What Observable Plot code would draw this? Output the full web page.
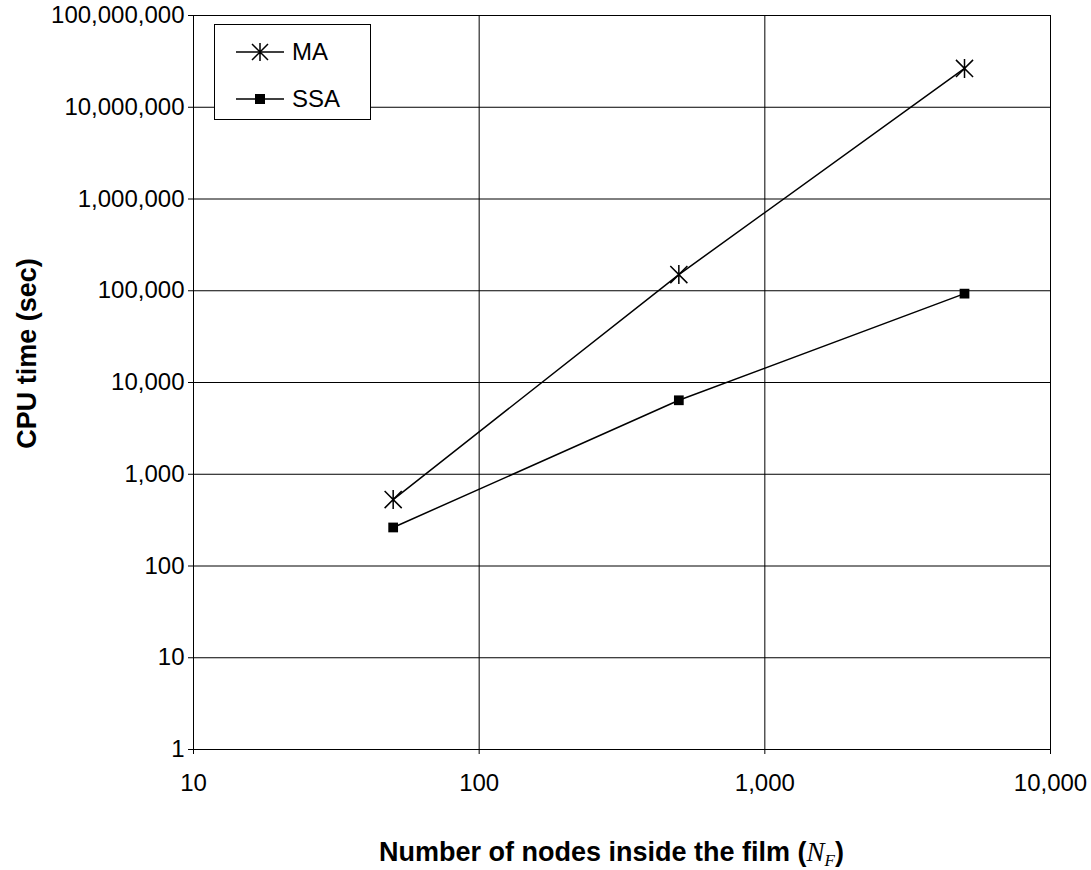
<!DOCTYPE html>
<html>
<head>
<meta charset="utf-8">
<script src="https://cdn.jsdelivr.net/npm/d3@7"></script>
<script src="https://cdn.jsdelivr.net/npm/@observablehq/plot@0.6"></script>
<style>
  body { margin: 0; background: white; font-family: "Liberation Sans", Arial, sans-serif; }
  #wrap { position: relative; width: 1091px; height: 870px; }
  #chart svg { display: block; }
  #legend { position: absolute; left: 214px; top: 24px; width: 157px; height: 96px;
    border: 1px solid black; background: white; box-sizing: border-box; }
  .entry { position: absolute; left: 0; height: 30px; display: flex; align-items: center; font-size: 24px; }
  .entry svg { display: block; margin-left: 21px; margin-right: 8px; }
  #xlabel { position: absolute; left: 183px; width: 857px; top: 833px; text-align: center;
    font-weight: bold; font-size: 27px; line-height: 38px; white-space: nowrap; }
  #xlabel i { font-family: "Liberation Serif", "Times New Roman", serif; font-weight: normal; font-style: italic; }
  #xlabel sub { font-size: 17px; vertical-align: -5px; }
</style>
</head>
<body>
<div id="wrap">
  <div id="chart"></div>
  <div id="legend"></div>
  <div id="xlabel"></div>
</div>
<script>
// ---- data ----
const nodes = [50, 500, 5000];
const maTime = [530, 150000, 26500000];
const ssaTime = [263, 6400, 93000];
const seriesNames = ["MA", "SSA"];
const xTicks = [10, 100, 1000, 10000];
const yTicks = [1, 10, 100, 1000, 10000, 100000, 1000000, 10000000, 100000000];
const xLabelText = "Number of nodes inside the film (";
const yLabelText = "CPU time (sec)";

const rows = [
  ...nodes.map((n, i) => ({series: "MA", n, t: maTime[i]})),
  ...nodes.map((n, i) => ({series: "SSA", n, t: ssaTime[i]}))
];

// Excel-style star: X plus vertical bar
const star = {
  draw(context, size) {
    const r = Math.sqrt(size / Math.PI);
    const d = r * 0.9;
    context.moveTo(0, -r); context.lineTo(0, r);
    context.moveTo(-d, -d); context.lineTo(d, d);
    context.moveTo(-d, d); context.lineTo(d, -d);
  }
};

const fmt = d3.format(",");

const chart = Plot.plot({
  width: 1091,
  height: 800,
  marginLeft: 193,
  marginRight: 41,
  marginTop: 15,
  marginBottom: 51,
  style: {fontFamily: "'Liberation Sans', Arial, sans-serif", fontSize: "24px", background: "white", color: "black"},
  x: {type: "log", domain: [10, 10000]},
  y: {type: "log", domain: [1, 100000000]},
  marks: [
    Plot.gridX(xTicks, {stroke: "black", strokeOpacity: 1, strokeWidth: 1}),
    Plot.gridY(yTicks, {stroke: "black", strokeOpacity: 1, strokeWidth: 1}),
    Plot.axisX(xTicks, {tickFormat: fmt, tickSize: 5, tickPadding: 19, label: null, fontSize: 24, stroke: "black"}),
    Plot.axisY(yTicks, {tickFormat: fmt, tickSize: 5, tickPadding: 4, label: null, fontSize: 24, stroke: "black"}),
    Plot.line(rows, {x: "n", y: "t", z: "series", stroke: "black", strokeWidth: 1.5}),
    Plot.dot(rows.filter(d => d.series === "MA"), {x: "n", y: "t", symbol: star, r: 9.5, stroke: "black", fill: "none", strokeWidth: 1.5}),
    Plot.dot(rows.filter(d => d.series === "SSA"), {x: "n", y: "t", symbol: "square", r: 5.5, fill: "black", stroke: "none"}),
    Plot.text([yLabelText], {text: d => d, frameAnchor: "left", textAnchor: "middle", lineAnchor: "middle", dx: -166, dy: -29, rotate: -90, fontWeight: "bold", fontSize: 27, fill: "black"})
  ]
});
document.getElementById("chart").appendChild(chart);

// ---- legend ----
const legend = document.getElementById("legend");
seriesNames.forEach((name, i) => {
  const e = document.createElement("div");
  e.className = "entry";
  e.style.top = (12 + i * 47) + "px";
  const sym = name === "MA"
    ? '<line x1="0" y1="15" x2="48" y2="15" stroke="black" stroke-width="1.5"/>' +
      '<path d="M24,6V24M16,7L32,23M16,23L32,7" stroke="black" stroke-width="1.5" fill="none"/>'
    : '<line x1="0" y1="15" x2="48" y2="15" stroke="black" stroke-width="1.5"/>' +
      '<rect x="19" y="10" width="10" height="10" fill="black"/>';
  e.innerHTML = '<svg width="48" height="30">' + sym + '</svg><span>' + name + '</span>';
  legend.appendChild(e);
});

// ---- x label ----
document.getElementById("xlabel").innerHTML = xLabelText + '<i>N<sub>F</sub></i>)';
</script>
</body>
</html>
